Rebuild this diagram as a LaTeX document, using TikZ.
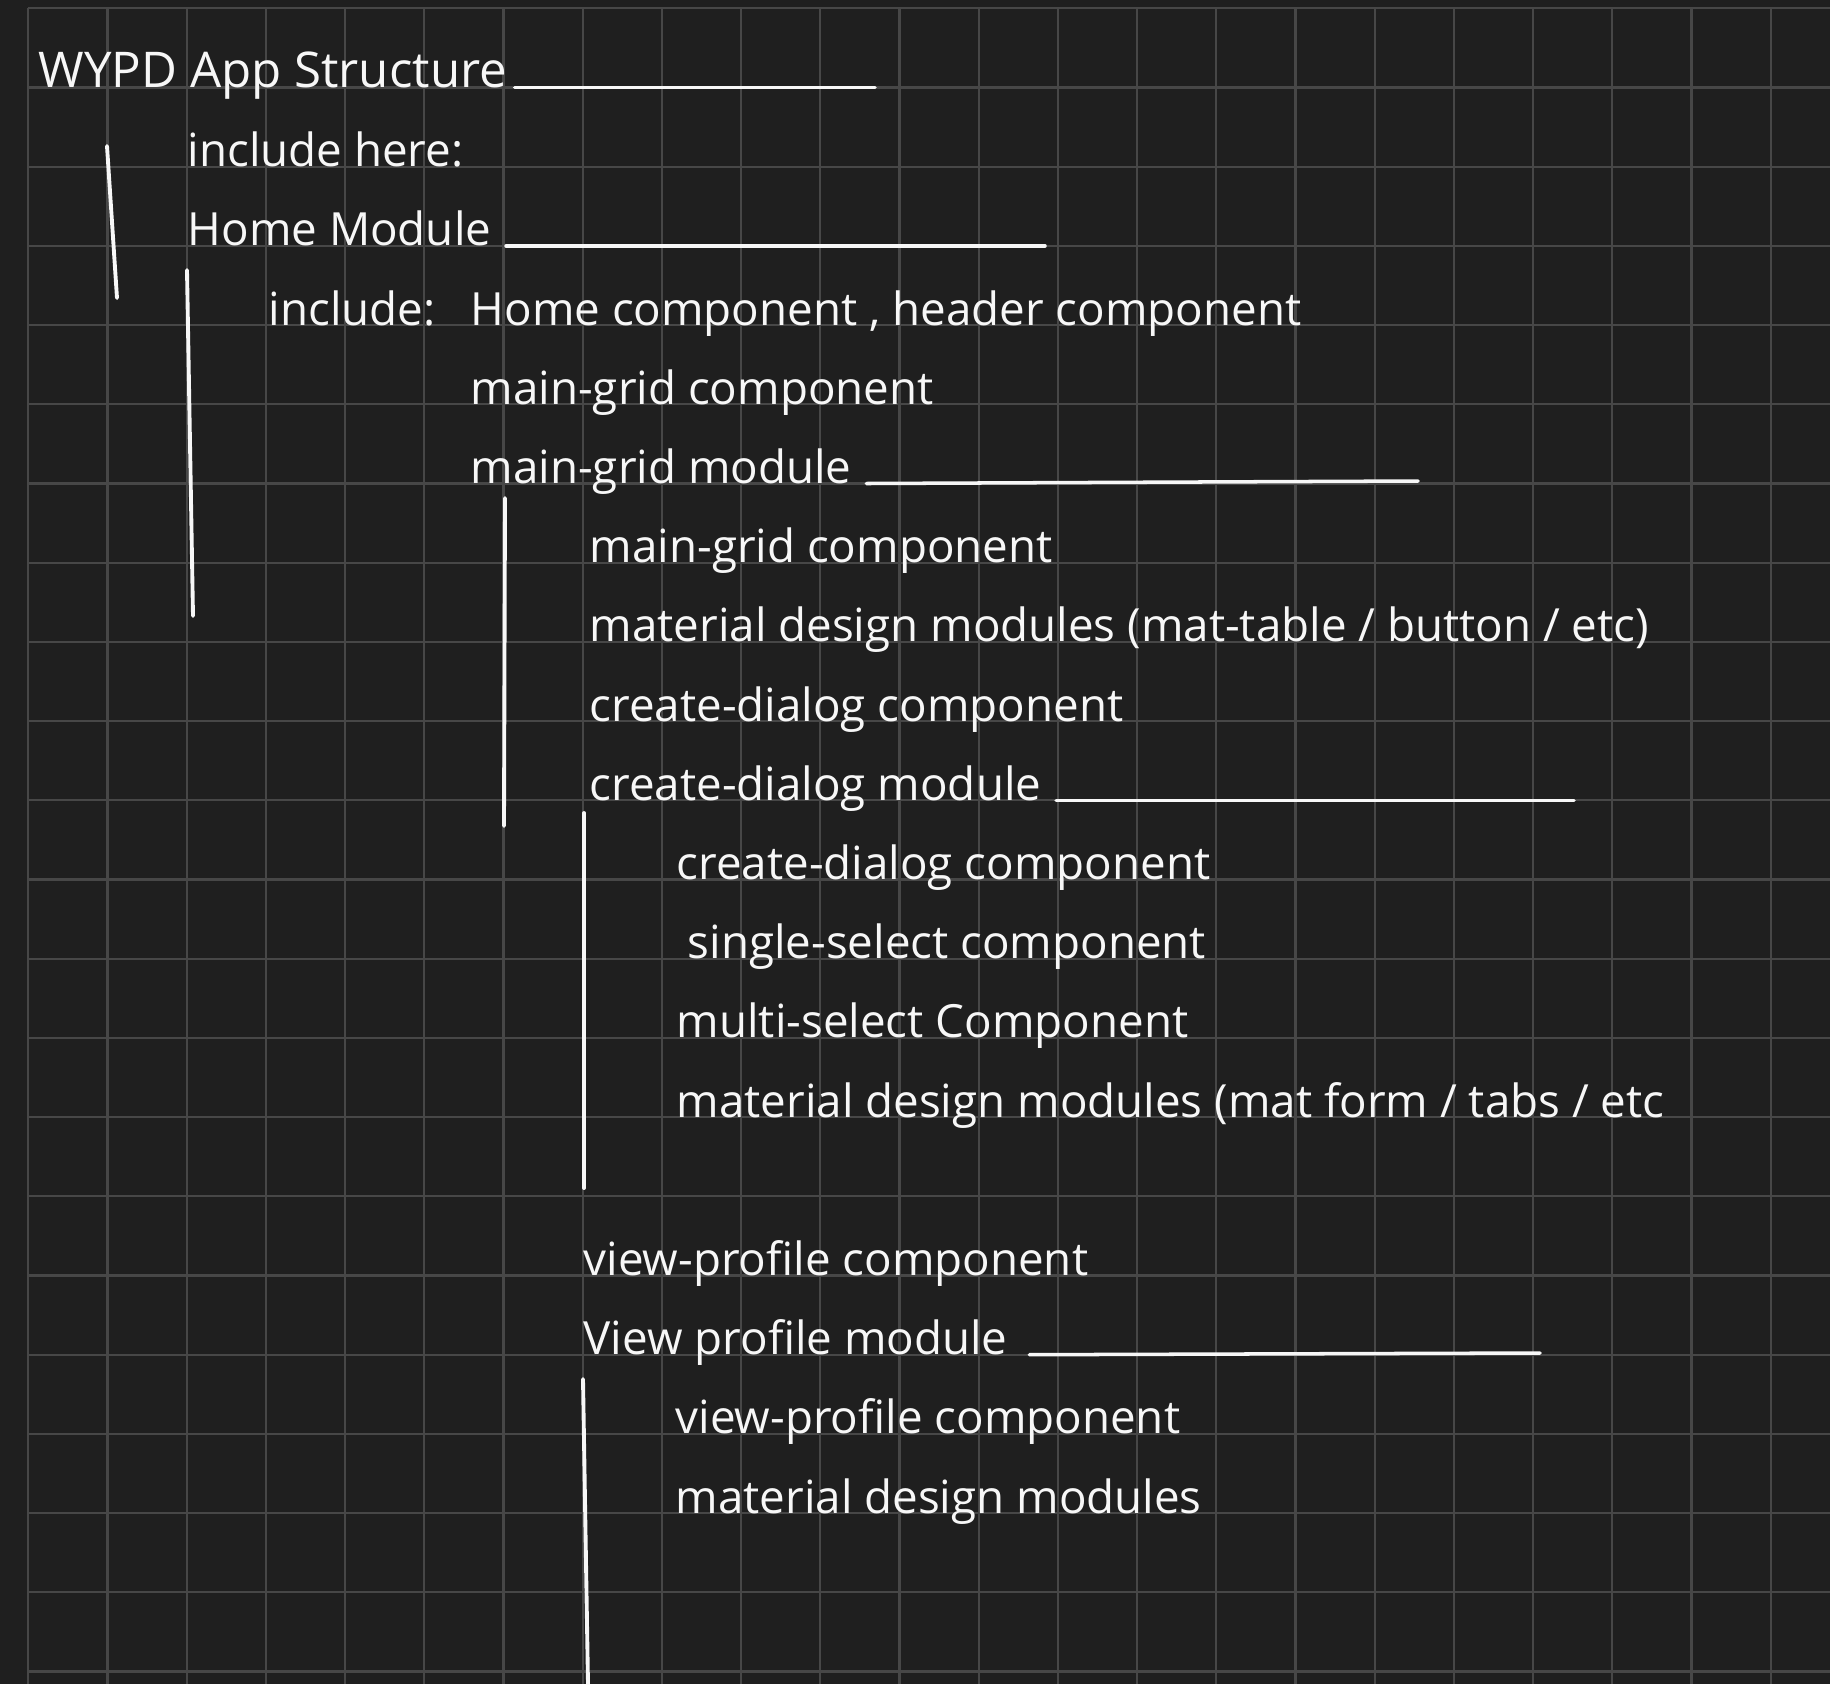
\documentclass[tikz,border=0pt]{standalone}
\usepackage{fontspec}
\setmainfont{Open Sans}
\usetikzlibrary{positioning, calc}
\definecolor{padbg}{HTML}{1F1F1F}
\definecolor{padgrid}{HTML}{474747}
\definecolor{ink}{HTML}{F7F7F7}
\tikzset{
  gridline/.style={padgrid, line width=0.6pt},
  note/.style={anchor=base west, inner sep=0pt, text=ink, font=\fontsize{13}{15}\selectfont},
  headnote/.style={note, font=\fontsize{14}{17}\selectfont},
  uline/.style={ink, line width=1pt, line cap=round},
  bar/.style={ink, line width=1.1pt, line cap=round},
}

\begin{document}
\begin{tikzpicture}[x=0.01cm, y=-0.01cm]
    \fill[padbg] (0,0) rectangle (1830,1684);
    \useasboundingbox (0,0) rectangle (1830,1684);
    % squared paper
    \foreach \i in {0,...,22}
      \draw[gridline] ({28.3+79.2*\i},8.3) -- ({28.3+79.2*\i},1684);
    \foreach \j in {0,...,21}
      \draw[gridline] (28.3,{8.3+79.2*\j}) -- (1830,{8.3+79.2*\j});

    % app level
    \node[headnote] (title) at (38,87.5) {WYPD App Structure};
    \node[note] (inchere) at (187,166.7) {include here:};
    \node[note] (homemod) at (187,245.9) {Home Module};

    % home module
    \node[note] (incl) at (268,325.1) {include:};
    \node[note] (homecomp) at (470,325.1) {Home component , header component};
    \node[note] (gridcomp) at (470,404.3) {main-grid component};
    \node[note] (gridmod) at (470,483.5) {main-grid module};

    % main-grid module
    \node[note] (gridcomp2) at (589,562.7) {main-grid component};
    \node[note] (matgrid) at (589,641.9) {material design modules (mat-table / button / etc)};
    \node[note] (dlgcomp) at (589,721.1) {create-dialog component};
    \node[note] (dlgmod) at (589,800.3) {create-dialog module};

    % create-dialog module
    \node[note] (dlgcomp2) at (676,879.5) {create-dialog component};
    \node[note] (single) at (687,958.7) {single-select component};
    \node[note] (multi) at (676,1037.9) {multi-select Component};
    \node[note] (matdlg) at (676,1117.1) {material design modules (mat form / tabs / etc};

    % view-profile
    \node[note] (profcomp) at (583,1275.5) {view-profile component};
    \node[note] (profmod) at (583,1354.7) {View profile module};
    \node[note] (profcomp2) at (675,1433.9) {view-profile component};
    \node[note] (matprof) at (675,1513.1) {material design modules};

    % line ends
    \coordinate (titleU) at (875,87.5);
    \coordinate (homeU) at (1045,245.9);
    \coordinate (gridU) at (1418,481);
    \coordinate (dlgU) at (1574,800.3);
    \coordinate (profU) at (1540,1353);
    \coordinate (barA1) at (107,146);  \coordinate (barA2) at (117,298);
    \coordinate (barB1) at (187,270);  \coordinate (barB2) at (193,616);
    \coordinate (barC1) at (505,498);  \coordinate (barC2) at (504,826);
    \coordinate (barD1) at (584,813);  \coordinate (barD2) at (584,1188);
    \coordinate (barE1) at (583,1379); \coordinate (barE2) at (588,1684);

    \draw[uline] ([xshift=2pt]title.base east) -- (titleU);
    \draw[uline] ([xshift=4pt]homemod.base east) -- (homeU);
    \draw[uline] ([xshift=4pt]gridmod.base east) -- (gridU);
    \draw[uline] ([xshift=4pt]dlgmod.base east) -- (dlgU);
    \draw[uline] ([xshift=6pt]profmod.base east) -- (profU);

    \draw[bar] (barA1) -- (barA2);
    \draw[bar] (barB1) -- (barB2);
    \draw[bar] (barC1) -- (barC2);
    \draw[bar] (barD1) -- (barD2);
    \draw[bar] (barE1) -- (barE2);
\end{tikzpicture}
\end{document}
